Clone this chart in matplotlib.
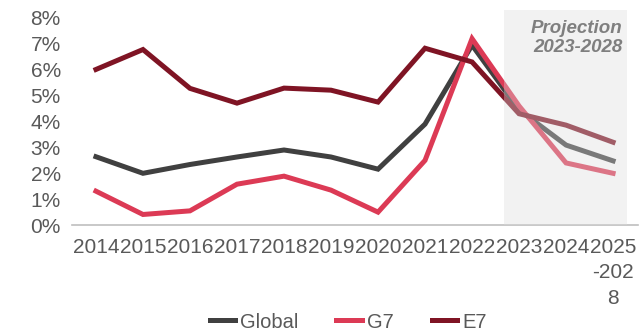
import matplotlib.pyplot as plt
from matplotlib.patches import Rectangle

plt.rcParams['font.family'] = ['Liberation Sans', 'DejaVu Sans']

years = ["2014", "2015", "2016", "2017", "2018", "2019", "2020", "2021",
         "2022", "2023", "2024", "2025\n-202\n8"]
global_growth = [2.64, 2.0, 2.34, 2.63, 2.9, 2.63, 2.16, 3.9, 6.95, 4.45, 3.09, 2.48]
g7_growth = [1.31, 0.41, 0.55, 1.58, 1.89, 1.35, 0.5, 2.5, 7.2, 4.6, 2.4, 2.0]
e7_growth = [6.01, 6.78, 5.28, 4.71, 5.29, 5.21, 4.75, 6.83, 6.3, 4.3, 3.86, 3.2]

fig = plt.figure(figsize=(6.41, 3.32), dpi=100)
ax = fig.add_axes([0.1123, 0.322, 0.883, 0.624])

x = range(len(years))
ax.plot(x, global_growth, color="#404040", lw=3.6, label="Global", solid_joinstyle="miter")
ax.plot(x, g7_growth, color="#dc3a55", lw=3.6, label="G7", solid_joinstyle="miter")
ax.plot(x, e7_growth, color="#7f1424", lw=3.6, label="E7", solid_joinstyle="miter")

# projection band sits on top of the lines so they fade inside it
ax.add_patch(Rectangle((8.68, 0), 2.62, 8.3, facecolor="#dcdcdc", alpha=0.37,
                       edgecolor="none", zorder=5, clip_on=False))
ax.text(11.2, 7.22, "Projection\n2023-2028", ha="right", va="center",
        fontsize=13.5, fontweight="bold", fontstyle="italic", color="#7f7f7f",
        linespacing=1.15, zorder=6)

ax.set_xlim(-0.51, 11.53)
ax.set_ylim(0, 8)
ax.set_yticks(range(0, 9))
ax.set_yticklabels([f"{v}%" for v in range(0, 9)])
ax.set_xticks(list(x))
ax.set_xticklabels(years, linespacing=1.45)

for side in ["top", "right", "left"]:
    ax.spines[side].set_visible(False)
ax.spines["bottom"].set_color("#bfbfbf")
ax.spines["bottom"].set_linewidth(1.2)
ax.tick_params(axis="both", length=0, labelsize=15, labelcolor="#595959")
ax.tick_params(axis="x", pad=9)
ax.tick_params(axis="y", pad=8)

ax.legend(loc="center", bbox_to_anchor=(348 / 641, 1 - 322 / 332),
          bbox_transform=fig.transFigure, ncol=3, frameon=False,
          fontsize=14.5, labelcolor="#595959", handlelength=1.25, handletextpad=0.25,
          columnspacing=1.9, borderaxespad=0, borderpad=0)

fig.savefig("out.png", dpi=100)
